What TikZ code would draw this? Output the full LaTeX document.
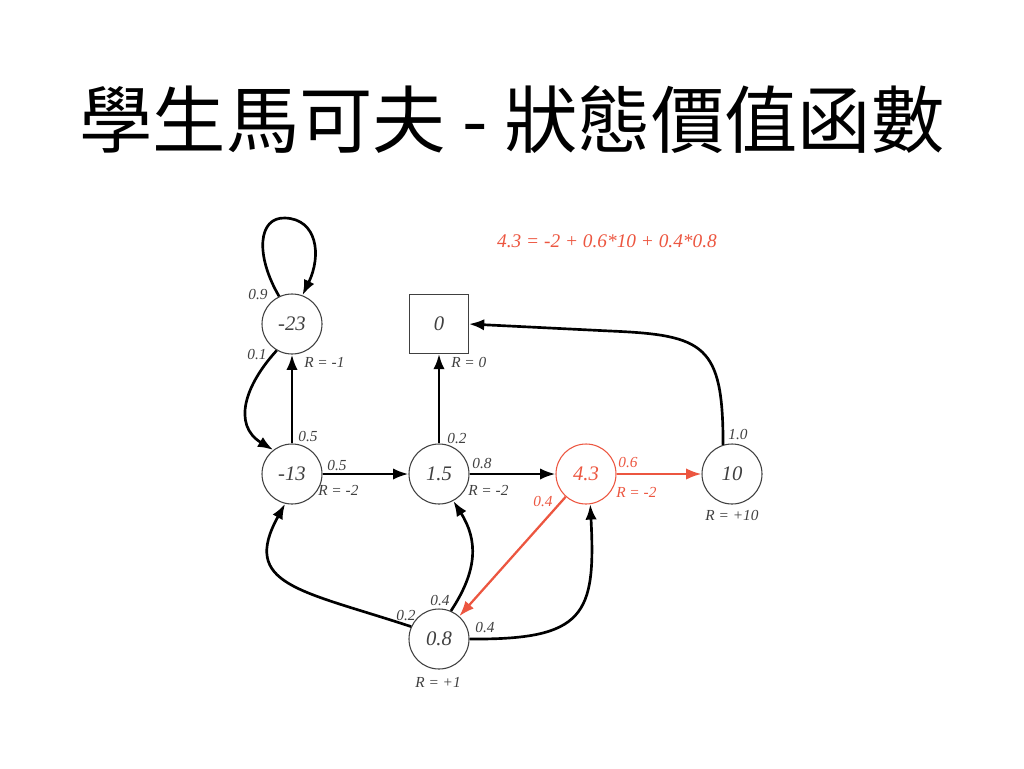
\documentclass[tikz,border=0pt]{standalone}
\usepackage{fontspec}
\setmainfont{Liberation Serif}
\newfontfamily\cjk{Noto Sans CJK TC}
\usetikzlibrary{arrows.meta}
\definecolor{hot}{RGB}{236,86,64}
\definecolor{ink}{RGB}{64,64,64}
\newcommand\labelfont{\fontsize{11.5}{13}\selectfont\itshape}

\begin{document}
\begin{tikzpicture}[x=0.75pt,y=-0.75pt, % one unit = one pixel, y downwards
  state/.style={circle,draw=ink,line width=0.8pt,minimum size=45pt,inner sep=0pt,
    text=ink,font=\fontsize{15.5}{18}\selectfont\itshape},
  term/.style={state,rectangle,minimum size=44pt},
  prob/.style={inner sep=0pt,text=ink,font=\labelfont},
  edge/.style={line width=2pt,-{Latex[length=11.5pt,width=8.5pt]}},
  hotedge/.style={edge,draw=hot,line width=1.7pt}]
\useasboundingbox (0,0) rectangle (1024,768);

\node[font=\cjk\fontsize{55}{60}\selectfont] (title) at (512,120) {學生馬可夫 - 狀態價值函數};

% states
\node[state] (v23) at (292,324) {-23};
\node[term]  (v0)  at (439,324) {0};
\node[state] (v13) at (292,474) {-13};
\node[state] (v15) at (439,474) {1.5};
\node[state,draw=hot,text=hot] (v43) at (586,474) {4.3};
\node[state] (v10) at (732,474) {10};
\node[state] (v08) at (439,639) {0.8};

% transitions
\draw[edge] (v23.115) .. controls (255,255) and (258,217) .. (285,218)
  .. controls (317,219) and (322,255) .. (v23.70);
\draw[edge] (v23.240) .. controls (245,385) and (232,425) .. (v13.128);
\draw[edge] (v13) -- (v23);
\draw[edge] (v13) -- (v15);
\draw[edge] (v15) -- (v0);
\draw[edge] (v15) -- (v43);
\draw[hotedge] (v43) -- (v10);
\draw[hotedge] (v43) -- (v08);
\draw[edge] (v10.107) .. controls (723,345) and (705,335) .. (610,331) -- (v0.east);
\draw[edge] (v08.156) .. controls (300,590) and (240,585) .. (v13.257);
\draw[edge] (v08.67) .. controls (478,570) and (478,540) .. (v15.-62);
\draw[edge] (v08.east) .. controls (585,640) and (596,615) .. (v43.-82);

% probabilities
\foreach \x/\y/\t [count=\i] in {258/295/0.9, 257/355/0.1, 308/437/0.5, 337/466/0.5,
    457/439/0.2, 482/464/0.8, 738/435/1.0, 406/615/0.2, 440/600/0.4, 485/627/0.4}
  \node[prob] (p\i) at (\x,\y) {\t};
\node[prob,text=hot] (p11) at (628,463) {0.6};
\node[prob,text=hot] (p12) at (543,502) {0.4};

% rewards
\foreach \x/\y/\t [count=\i] in {304/362/-1, 451/362/0, 318/490/-2, 468/490/-2}
  \node[prob,anchor=west] (r\i) at (\x,\y) {R = \t};
\node[prob,anchor=west,text=hot] (r5) at (616,492) {R = -2};
\node[prob] (r6) at (732,515) {R = +10};
\node[prob] (r7) at (438,682) {R = +1};

\node[prob,text=hot,font=\fontsize{14.5}{17}\selectfont\itshape] (sum) at (607,241)
  {4.3 = -2 + 0.6*10 + 0.4*0.8};
\end{tikzpicture}
\end{document}
